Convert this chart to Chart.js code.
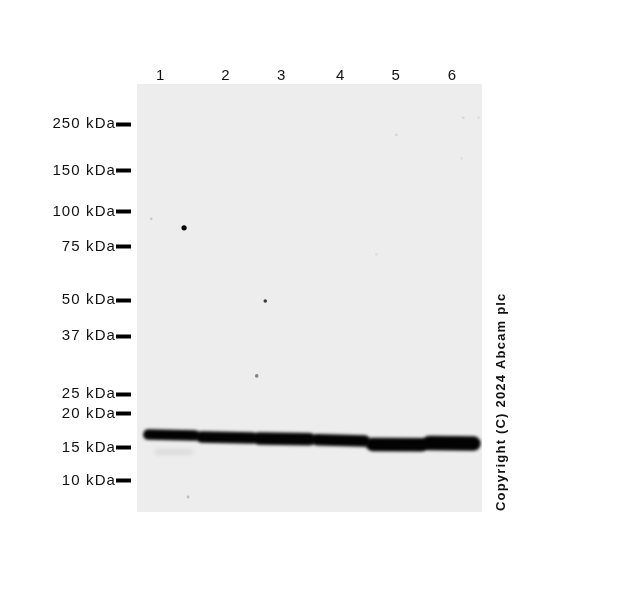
<!DOCTYPE html>
<html>
<head>
<meta charset="utf-8">
<title>Western blot</title>
<script src="https://cdn.jsdelivr.net/npm/chart.js@4.4.1/dist/chart.umd.min.js"></script>
<style>
  html, body { margin: 0; padding: 0; background: #ffffff; }
  #blot { display: block; }
</style>
</head>
<body>
<canvas id="blot" width="619" height="600"></canvas>
<script>
// Lanes (x in lane units) and migration (y in % of blot length from top)
const laneLabels = ['1', '2', '3', '4', '5', '6'];
const laneLabelPos = [0.84, 1.99, 2.97, 4.01, 4.99, 5.98];

// Ladder markers
const markerKDa = [250, 150, 100, 75, 50, 37, 25, 20, 15, 10];
const markerMigration = [9.4, 20.3, 29.8, 38.0, 50.5, 58.9, 72.5, 77.1, 85.0, 92.7];

// Main band per lane
const bandStart = [0.62, 1.56, 2.57, 3.59, 4.57, 5.57];
const bandEnd = [1.44, 2.45, 3.46, 4.43, 5.44, 6.35];
const bandMigLeft = [81.9, 82.5, 82.8, 83.1, 84.2, 83.9];
const bandMigRight = [82.1, 82.7, 83.0, 83.4, 84.3, 84.0];
const bandThickness = [10.5, 11.5, 12.5, 11.5, 13.5, 14.5];

// Faint lower band in lane 1
const faintStart = [0.78];
const faintEnd = [1.36];
const faintMig = [86.0];

// Specks on the membrane
const speckLane = [1.25, 2.68, 2.53, 0.67, 1.32, 4.99, 6.17, 6.44, 4.64, 6.14];
const speckMig = [33.6, 50.7, 68.2, 31.5, 96.5, 11.9, 7.9, 7.9, 39.8, 17.4];
const speckShade = [0, 60, 130, 200, 190, 215, 215, 220, 220, 225];

const bandSets = bandStart.map((s, i) => ({
  label: 'Lane ' + laneLabels[i],
  data: [{ x: s, y: bandMigLeft[i] }, { x: bandEnd[i], y: bandMigRight[i] }],
  borderColor: '#030303',
  borderWidth: bandThickness[i],
  borderCapStyle: 'round',
  pointRadius: 0,
  tension: 0,
  blur: 1.7
}));

const faintSets = faintStart.map((s, i) => ({
  label: 'faint',
  data: [{ x: s, y: faintMig[i] }, { x: faintEnd[i], y: faintMig[i] }],
  borderColor: 'rgba(0,0,0,0.07)',
  borderWidth: 6,
  borderCapStyle: 'round',
  pointRadius: 0,
  blur: 2
}));

const speckSet = {
  label: 'specks',
  data: speckLane.map((x, i) => ({ x: x, y: speckMig[i] })),
  showLine: false,
  pointRadius: speckLane.map((x, i) => i === 0 ? 2.6 : (i < 3 ? 1.8 : 1.4)),
  pointBackgroundColor: speckShade.map(v => `rgb(${v},${v},${v})`),
  pointBorderWidth: 0,
  blur: 0.4
};

const blotBackground = {
  id: 'blotBackground',
  beforeDatasetsDraw(chart) {
    const { ctx, chartArea: a } = chart;
    ctx.save();
    ctx.fillStyle = '#ededed';
    ctx.fillRect(a.left, a.top, a.right - a.left, a.bottom - a.top);
    ctx.restore();
  }
};

const softEdges = {
  id: 'softEdges',
  beforeDatasetDraw(chart, args) {
    const b = chart.data.datasets[args.index].blur;
    if (b) chart.ctx.filter = `blur(${b}px)`;
  },
  afterDatasetDraw(chart) {
    chart.ctx.filter = 'none';
  }
};

const spacing = {
  id: 'spacing',
  beforeUpdate(chart) { chart.ctx.letterSpacing = '1.1px'; },
  beforeDraw(chart) { chart.ctx.letterSpacing = '1.1px'; }
};

const copyright = {
  id: 'copyright',
  afterDraw(chart) {
    const ctx = chart.ctx;
    ctx.save();
    ctx.translate(505, 511);
    ctx.rotate(-Math.PI / 2);
    ctx.font = 'bold 13px "Liberation Sans", Arial, sans-serif';
    ctx.letterSpacing = '1.2px';
    ctx.fillStyle = '#111111';
    ctx.textAlign = 'left';
    ctx.textBaseline = 'alphabetic';
    ctx.fillText('Copyright (C) 2024 Abcam plc', 0, 0);
    ctx.restore();
  }
};

new Chart(document.getElementById('blot'), {
  type: 'line',
  data: { datasets: [...faintSets, ...bandSets, speckSet] },
  options: {
    responsive: false,
    animation: false,
    devicePixelRatio: 1,
    layout: { padding: { left: 0, top: 0, right: 137, bottom: 88 } },
    plugins: { legend: { display: false }, tooltip: { enabled: false } },
    scales: {
      x: {
        type: 'linear',
        position: 'top',
        min: 0.42,
        max: 6.5,
        afterFit(scale) { scale.height = 84; },
        afterBuildTicks(scale) { scale.ticks = laneLabelPos.map(v => ({ value: v })); },
        grid: { display: false, drawTicks: false },
        border: { display: false },
        ticks: {
          autoSkip: false,
          maxRotation: 0,
          padding: -1,
          color: '#111111',
          font: { family: '"Liberation Sans", Arial, sans-serif', size: 15 },
          callback: (v, i) => laneLabels[i]
        }
      },
      y: {
        type: 'linear',
        position: 'left',
        reverse: true,
        min: 0,
        max: 100,
        afterFit(scale) { scale.width = 137; },
        afterBuildTicks(scale) { scale.ticks = markerMigration.map(v => ({ value: v })); },
        grid: {
          drawOnChartArea: false,
          drawTicks: true,
          tickLength: 21,
          tickWidth: 4,
          tickColor: '#000000',
          tickBorderDash: [15, 6],
          tickBorderDashOffset: 0
        },
        border: { display: false },
        ticks: {
          autoSkip: false,
          padding: 0,
          color: '#111111',
          font: { family: '"Liberation Sans", Arial, sans-serif', size: 15 },
          callback: (v, i) => markerKDa[i] + ' kDa'
        }
      }
    }
  },
  plugins: [spacing, blotBackground, softEdges, copyright]
});
</script>
</body>
</html>
